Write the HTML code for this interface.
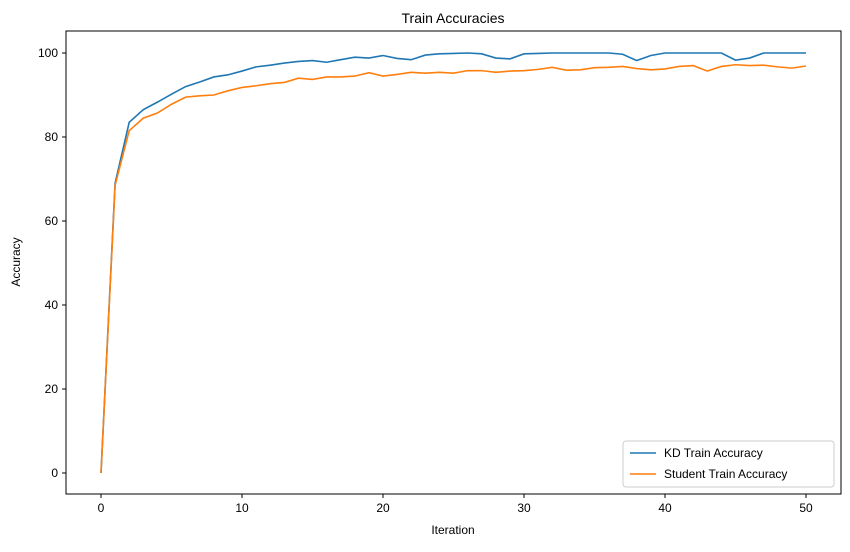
<!DOCTYPE html>
<html><head><meta charset="utf-8"><style>
body{margin:0;background:#fff;}
svg text{font-family:"Liberation Sans","DejaVu Sans",sans-serif;fill:#000;}
</style></head><body>
<svg width="850" height="547" xmlns="http://www.w3.org/2000/svg">
<rect width="850" height="547" fill="#fff"/>
<text x="453" y="23" font-size="14" text-anchor="middle">Train Accuracies</text>
<g id="grid"></g>
<g id="lines"></g>
<rect x="66" y="31" width="775" height="463" fill="none" stroke="#000" stroke-width="1"/>
<text x="453" y="534" font-size="12" text-anchor="middle">Iteration</text>
<text x="20" y="262" font-size="12" text-anchor="middle" transform="rotate(-90 20 262)">Accuracy</text>
<g>
<rect x="623" y="441" width="211" height="46" rx="3" fill="#fff" stroke="#ccc"/>
<line x1="630" y1="453" x2="656" y2="453" stroke="#1f77b4" stroke-width="1.5"/>
<text x="664" y="457" font-size="12">KD Train Accuracy</text>
<line x1="630" y1="474" x2="656" y2="474" stroke="#ff7f0e" stroke-width="1.5"/>
<text x="664" y="478" font-size="12">Student Train Accuracy</text>
</g>
</svg>
<script>
const kdAcc=[0,69,83.5,86.5,88.3,90.2,92,93.1,94.3,94.8,95.7,96.7,97.1,97.6,98,98.2,97.8,98.4,99,98.8,99.4,98.7,98.4,99.5,99.8,99.9,100,99.8,98.8,98.6,99.8,99.9,100,100,100,100,100,99.7,98.2,99.4,100,100,100,100,100,98.3,98.8,100,100,100,100];
const studentAcc=[0,68.5,81.5,84.5,85.7,87.8,89.5,89.8,90,91,91.8,92.2,92.7,93,94,93.7,94.3,94.3,94.5,95.3,94.5,94.9,95.4,95.2,95.4,95.2,95.8,95.8,95.4,95.7,95.8,96.1,96.6,95.9,96,96.5,96.6,96.8,96.3,96,96.2,96.8,97,95.7,96.8,97.2,97,97.1,96.7,96.4,96.9];
const xTicks=[0,10,20,30,40,50];
const yTicks=[0,20,40,60,80,100];
const NS="http://www.w3.org/2000/svg";
const xs=v=>101+v*(806-101)/50;
const ys=v=>473-v*(473-53)/100;
const g=document.getElementById('grid'),L=document.getElementById('lines');
xTicks.forEach(t=>{
 const l=document.createElementNS(NS,'line');
 l.setAttribute('x1',xs(t));l.setAttribute('x2',xs(t));l.setAttribute('y1',494);l.setAttribute('y2',498);l.setAttribute('stroke','#000');
 
 
 g.appendChild(l);
 const tx=document.createElementNS(NS,'text');
 tx.setAttribute('x',xs(t));tx.setAttribute('y',512);tx.setAttribute('font-size','12');tx.setAttribute('text-anchor','middle');tx.textContent=t;
 
 
 g.appendChild(tx);
});
yTicks.forEach(t=>{
 const l=document.createElementNS(NS,'line');
 l.setAttribute('x1',62);l.setAttribute('x2',66);l.setAttribute('y1',ys(t));l.setAttribute('y2',ys(t));l.setAttribute('stroke','#000');
 
 
 g.appendChild(l);
 const tx=document.createElementNS(NS,'text');
 tx.setAttribute('x',58);tx.setAttribute('y',ys(t)+4);tx.setAttribute('font-size','12');tx.setAttribute('text-anchor','end');tx.textContent=t;
 
 
 g.appendChild(tx);
});
function line(arr,color,name){
 const p=document.createElementNS(NS,'polyline');
 p.setAttribute('points',arr.map((v,i)=>xs(i)+','+ys(v)).join(' '));
 p.setAttribute('fill','none');p.setAttribute('stroke',color);p.setAttribute('stroke-width','1.6');
 
 
 L.appendChild(p);
}
line(kdAcc,'#1f77b4','kd-train-accuracy-line');
line(studentAcc,'#ff7f0e','student-train-accuracy-line');
</script>
</body></html>
